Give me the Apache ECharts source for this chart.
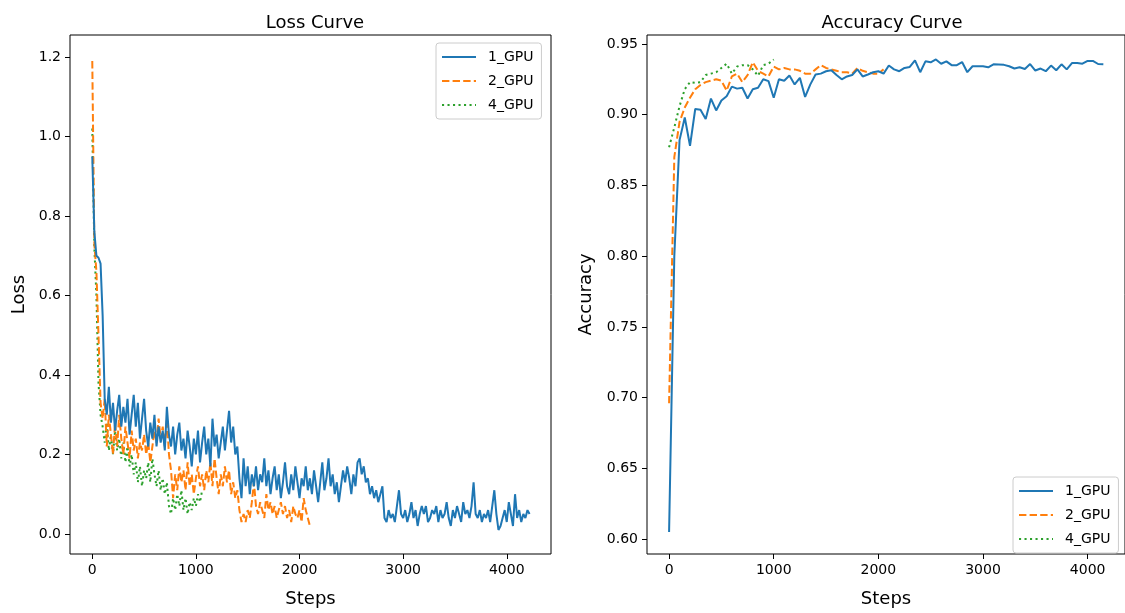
<!DOCTYPE html>
<html>
<head>
<meta charset="utf-8">
<script src="https://cdn.jsdelivr.net/npm/echarts@6/dist/echarts.min.js"></script>
<style>
html,body{margin:0;padding:0;background:#fff;}
#chart{width:1125px;height:613px;}
</style>
</head>
<body>
<div id="chart"></div>
<script>
// ---------- data ----------
const seriesNames = ['1_GPU', '2_GPU', '4_GPU'];
const lossStep = 20;   // steps between logged loss values
const accStep = 50;    // steps between accuracy evaluations
const xTicks = [0, 1000, 2000, 3000, 4000];
const lossTicks = [0.0, 0.2, 0.4, 0.6, 0.8, 1.0, 1.2];
const accTicks = [0.60, 0.65, 0.70, 0.75, 0.80, 0.85, 0.90, 0.95];

const loss1 = [
  0.95, 0.76, 0.70, 0.695, 0.68, 0.55, 0.34, 0.30, 0.37, 0.28,
  0.33, 0.26, 0.31, 0.35, 0.27, 0.32, 0.28, 0.34, 0.25, 0.30,
  0.35, 0.27, 0.33, 0.24, 0.29, 0.34, 0.26, 0.22, 0.28, 0.24,
  0.30, 0.22, 0.27, 0.23, 0.26, 0.21, 0.32, 0.25, 0.22, 0.27,
  0.20, 0.25, 0.28, 0.21, 0.24, 0.19, 0.26, 0.22, 0.17, 0.24,
  0.20, 0.26, 0.18, 0.23, 0.27, 0.20, 0.24, 0.17, 0.29, 0.22,
  0.25, 0.19, 0.23, 0.27, 0.21, 0.26, 0.31, 0.23, 0.27, 0.20,
  0.22, 0.14, 0.09, 0.19, 0.12, 0.17, 0.10, 0.15, 0.12, 0.17,
  0.11, 0.15, 0.13, 0.19, 0.12, 0.16, 0.10, 0.14, 0.17, 0.11,
  0.15, 0.09, 0.13, 0.18, 0.12, 0.10, 0.15, 0.11, 0.17, 0.13,
  0.09, 0.14, 0.12, 0.17, 0.11, 0.14, 0.10, 0.16, 0.12, 0.08,
  0.13, 0.18, 0.11, 0.14, 0.19, 0.12, 0.15, 0.10, 0.13, 0.08,
  0.12, 0.16, 0.13, 0.17, 0.14, 0.10, 0.15, 0.12, 0.18, 0.19,
  0.15, 0.17, 0.13, 0.14, 0.10, 0.12, 0.09, 0.11, 0.08, 0.10,
  0.12, 0.04, 0.03, 0.06, 0.04, 0.05, 0.03, 0.07, 0.11, 0.05,
  0.04, 0.06, 0.03, 0.05, 0.08, 0.04, 0.06, 0.02, 0.05, 0.07,
  0.05, 0.07, 0.03, 0.04, 0.06, 0.05, 0.07, 0.03, 0.06, 0.04,
  0.05, 0.08, 0.04, 0.02, 0.06, 0.04, 0.07, 0.05, 0.03, 0.08,
  0.05, 0.06, 0.04, 0.07, 0.13, 0.05, 0.04, 0.06, 0.03, 0.05,
  0.04, 0.06, 0.03, 0.07, 0.11, 0.05, 0.01, 0.02, 0.04, 0.06,
  0.03, 0.08, 0.05, 0.02, 0.10, 0.04, 0.06, 0.03, 0.05, 0.04,
  0.06, 0.05
];
const loss2 = [
  1.19, 0.73, 0.66, 0.50, 0.33, 0.29, 0.34, 0.22, 0.30, 0.25,
  0.20, 0.28, 0.22, 0.30, 0.24, 0.20, 0.27, 0.23, 0.19, 0.26,
  0.21, 0.24, 0.19, 0.23, 0.21, 0.25, 0.20, 0.23, 0.18, 0.22,
  0.26, 0.23, 0.29, 0.24, 0.27, 0.22, 0.29, 0.20, 0.16, 0.09,
  0.15, 0.11, 0.17, 0.13, 0.16, 0.11, 0.18, 0.12, 0.15, 0.10,
  0.14, 0.17, 0.12, 0.15, 0.11, 0.16, 0.13, 0.18, 0.12, 0.19,
  0.14, 0.10, 0.15, 0.12, 0.17, 0.13, 0.16, 0.10, 0.13, 0.09,
  0.11, 0.06, 0.03, 0.05, 0.03, 0.06, 0.04, 0.08, 0.13, 0.07,
  0.05, 0.08, 0.06, 0.04, 0.10, 0.06, 0.08, 0.05, 0.07, 0.04,
  0.06, 0.08, 0.05, 0.07, 0.04, 0.06, 0.03, 0.07, 0.05, 0.04,
  0.06, 0.03, 0.09, 0.06, 0.04, 0.02
];
const loss4 = [
  1.02, 0.72, 0.60, 0.38, 0.30, 0.27, 0.23, 0.28, 0.21, 0.25,
  0.20, 0.26, 0.21, 0.24, 0.19, 0.23, 0.18, 0.22, 0.17, 0.20,
  0.15, 0.18, 0.13, 0.17, 0.12, 0.16, 0.14, 0.18, 0.13, 0.19,
  0.15, 0.12, 0.16, 0.11, 0.14, 0.10, 0.13, 0.07, 0.05, 0.09,
  0.06, 0.10, 0.07, 0.11, 0.06, 0.09, 0.05, 0.08, 0.06, 0.09,
  0.07, 0.10, 0.08, 0.11
];

const acc1 = [
  0.605, 0.80, 0.882, 0.898, 0.878, 0.904, 0.9035, 0.897, 0.9114, 0.903,
  0.910, 0.913, 0.9198, 0.9184, 0.919, 0.9114, 0.918, 0.919, 0.925, 0.9237,
  0.912, 0.925, 0.924, 0.9277, 0.9214, 0.926, 0.9125, 0.9214, 0.9284, 0.929,
  0.9307, 0.9314, 0.928, 0.925, 0.927, 0.928, 0.932, 0.927, 0.9284, 0.930,
  0.9307, 0.929, 0.9347, 0.932, 0.9307, 0.933, 0.9337, 0.9384, 0.930, 0.9377,
  0.937, 0.939, 0.936, 0.9377, 0.935, 0.935, 0.9372, 0.930, 0.9342, 0.9342,
  0.9342, 0.9335, 0.9356, 0.9354, 0.9352, 0.9342, 0.9326, 0.9335, 0.9323, 0.9358,
  0.9312, 0.9326, 0.9307, 0.9347, 0.9314, 0.9356, 0.932, 0.9365, 0.9365, 0.936,
  0.938, 0.938, 0.9358, 0.9356
];
const acc2 = [
  0.696, 0.87, 0.895, 0.905, 0.912, 0.918, 0.921, 0.923, 0.924, 0.925,
  0.924, 0.917, 0.927, 0.929, 0.923, 0.928, 0.937, 0.931, 0.929, 0.927,
  0.934, 0.932, 0.933, 0.932, 0.932, 0.931, 0.929, 0.929, 0.932, 0.935,
  0.933, 0.932, 0.931, 0.930, 0.930, 0.929, 0.933, 0.931, 0.930, 0.929,
  0.929, 0.932
];
const acc4 = [
  0.877, 0.891, 0.906, 0.918, 0.923, 0.9225, 0.923, 0.928, 0.929, 0.930,
  0.933, 0.936, 0.929, 0.934, 0.935, 0.935, 0.932, 0.9275, 0.935, 0.936,
  0.939
];

// ---------- chart ----------
const colors = ['#1f77b4', '#ff7f0e', '#2ca02c'];
const dashes = ['solid', [7.4, 3.2], [2.1, 3.4]];
const FONT = 'DejaVu Sans';
const pairs = (arr, step) => arr.map((v, i) => [i * step, v]);

function xAxisCfg(gridIndex, min, max) {
  return {
    type: 'value', gridIndex, min, max,
    name: 'Steps', nameLocation: 'middle', nameGap: 36,
    nameTextStyle: { fontFamily: FONT, fontSize: 18, color: '#000' },
    axisLine: { show: false, onZero: false },
    splitLine: { show: false },
    axisTick: { show: true, inside: false, length: 5, lineStyle: { color: '#000', width: 1 }, customValues: xTicks },
    axisLabel: { color: '#000', fontFamily: FONT, fontSize: 14, margin: 9, customValues: xTicks,
                 formatter: v => String(Math.round(v)) }
  };
}
function yAxisCfg(gridIndex, min, max, name, ticks, dec, gap) {
  return {
    type: 'value', gridIndex, min, max,
    name, nameLocation: 'middle', nameGap: gap, nameRotate: 90,
    nameTextStyle: { fontFamily: FONT, fontSize: 18, color: '#000' },
    axisLine: { show: false, onZero: false },
    splitLine: { show: false },
    axisTick: { show: true, inside: false, length: 5, lineStyle: { color: '#000', width: 1 }, customValues: ticks },
    axisLabel: { color: '#000', fontFamily: FONT, fontSize: 14, margin: 9, customValues: ticks,
                 formatter: v => v.toFixed(dec) }
  };
}
function legendCfg(left, top) {
  return {
    data: seriesNames, orient: 'vertical', left, top,
    itemWidth: 34, itemHeight: 14, itemGap: 10,
    padding: [7, 8, 7, 5],
    backgroundColor: 'rgba(255,255,255,0.8)',
    borderColor: '#cccccc', borderWidth: 1, borderRadius: 3,
    itemStyle: { color: 'rgba(0,0,0,0)', borderWidth: 0, opacity: 0 },
    lineStyle: { opacity: 1 },
    textStyle: { fontFamily: FONT, fontSize: 14, color: '#000', padding: [0, 0, 0, 7] },
    selectedMode: false
  };
}
function lineSeries(name, idx, data, axisIdx) {
  return {
    name, type: 'line', data, xAxisIndex: axisIdx, yAxisIndex: axisIdx,
    showSymbol: false, symbol: 'none', animation: false,
    lineStyle: { color: colors[idx], width: 2, type: dashes[idx], cap: 'butt' },
    itemStyle: { color: colors[idx] },
    z: 3 - idx
  };
}

const chart = echarts.init(document.getElementById('chart'), null, { renderer: 'canvas' });
chart.setOption({
  animation: false,
  backgroundColor: '#fff',
  title: [
    { text: 'Loss Curve', left: 310, top: 9, textAlign: 'center',
      textStyle: { fontFamily: FONT, fontSize: 18, fontWeight: 'normal', color: '#000' } },
    { text: 'Accuracy Curve', left: 887, top: 9, textAlign: 'center',
      textStyle: { fontFamily: FONT, fontSize: 18, fontWeight: 'normal', color: '#000' } }
  ],
  grid: [
    { left: 70, top: 35, width: 481, height: 526, show: true, borderColor: '#000', borderWidth: 1, backgroundColor: 'transparent' },
    { left: 647, top: 35, width: 481, height: 526, show: true, borderColor: '#000', borderWidth: 1, backgroundColor: 'transparent' }
  ],
  xAxis: [ xAxisCfg(0, -215, 4427), xAxisCfg(1, -211, 4357) ],
  yAxis: [
    yAxisCfg(0, -0.0505, 1.2555, 'Loss', lossTicks, 1, 42),
    yAxisCfg(1, 0.5895, 0.9563, 'Accuracy', accTicks, 2, 52)
  ],
  legend: [ legendCfg(436, 43), legendCfg(1013, 477) ],
  series: [
    lineSeries('1_GPU', 0, pairs(loss1, lossStep), 0),
    lineSeries('2_GPU', 1, pairs(loss2, lossStep), 0),
    lineSeries('4_GPU', 2, pairs(loss4, lossStep), 0),
    lineSeries('1_GPU', 0, pairs(acc1, accStep), 1),
    lineSeries('2_GPU', 1, pairs(acc2, accStep), 1),
    lineSeries('4_GPU', 2, pairs(acc4, accStep), 1)
  ]
});
</script>
</body>
</html>
